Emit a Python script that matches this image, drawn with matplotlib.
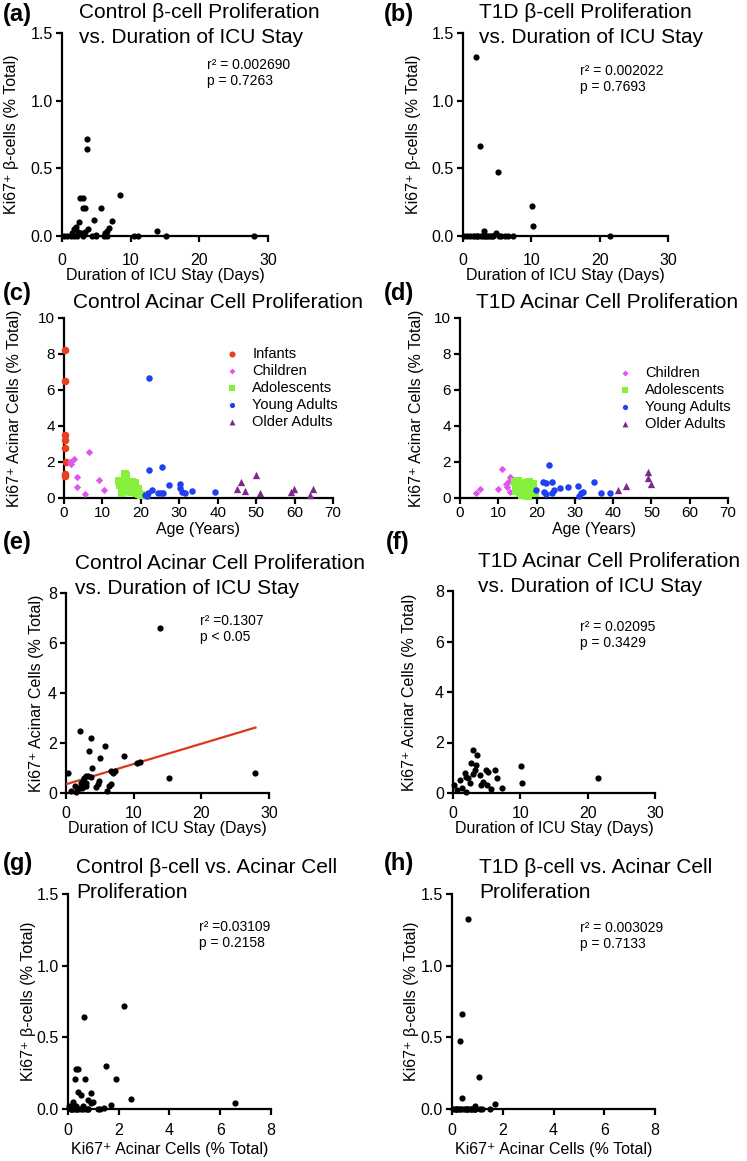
import matplotlib
matplotlib.use("Agg")
import matplotlib.pyplot as plt
from matplotlib.ticker import FormatStrFormatter

plt.rcParams['font.family'] = ['Liberation Sans', 'DejaVu Sans']

# ---- control donors: days in ICU, Ki67+ beta cells (%), Ki67+ acinar cells (%)
ctrl_icu_days = [3.7, 3.7, 2.6, 3.0, 8.5, 3.0, 3.3, 5.7, 4.7, 7.3, 2.5, 2.0, 1.8,
                 3.8, 6.9, 13.9, 2.7, 5.0, 6.3, 6.6, 0.3, 0.8, 1.3, 1.75, 2.2, 3.0,
                 4.4, 4.9, 6.1, 6.6, 10.5, 11.0, 15.2, 28.0, 1.5, 2.3, 3.4]
ctrl_beta = [0.72, 0.64, 0.28, 0.28, 0.30, 0.21, 0.21, 0.21, 0.12, 0.11, 0.10, 0.07,
             0.05, 0.05, 0.06, 0.04, 0.02, 0.01, 0.02, 0.04, 0, 0, 0, 0, 0, 0,
             0, 0, 0, 0, 0, 0, 0, 0, 0.02, 0.03, 0.03]
ctrl_acinar = [2.2, 0.64, 0.3, 0.4, 1.5, 0.28, 0.67, 1.9, 0.38, 0.9, 0.5, 2.5, 0.2,
               1.0, 0.8, 6.6, 0.6, 1.4, 0.3, 0.9, 0.8, 0.1, 0.3, 0.15, 0.4, 0.7,
               0.25, 0.5, 0.1, 0.35, 1.2, 1.25, 0.6, 0.8, 0.05, 0.2, 1.7]
ctrl_fit_intercept = 0.35
ctrl_fit_slope = 0.081

# ---- T1D donors
t1d_icu_days = [1.86, 2.5, 5.1, 10.1, 10.25, 3.0, 4.9, 0.2, 0.6, 1.0, 1.4, 1.8, 2.2,
                2.6, 3.2, 3.6, 4.0, 4.4, 5.2, 5.6, 6.2, 6.6, 7.3, 21.5, 2.9, 3.4, 2.0, 4.2]
t1d_beta = [1.325, 0.665, 0.473, 0.224, 0.074, 0.037, 0.02, 0, 0, 0, 0, 0, 0,
            0, 0, 0, 0, 0, 0, 0, 0, 0, 0, 0, 0, 0, 0, 0]
t1d_acinar = [0.63, 0.41, 0.33, 1.05, 0.4, 1.7, 0.9, 0.3, 0.1, 0.5, 0.2, 0.8, 0.6,
              1.2, 0.9, 1.5, 0.7, 0.45, 0.85, 0.15, 0.9, 0.6, 0.2, 0.6, 0.75, 1.1, 0.05, 0.3]

# ---- acinar proliferation by age group
groups = ['Infants', 'Children', 'Adolescents', 'Young Adults', 'Older Adults']
group_colors = ['#E8401C', '#E055F0', '#86F03C', '#2040F0', '#7B2A8C']
group_markers = ['o', 'D', 's', 'o', '^']
group_sizes = [30, 14, 30, 22, 28]

ctrl_age = {
    'Infants': [0.3, 0.2, 0.3, 0.2, 0.3, 0.4, 0.3, 0.2],
    'Children': [1.6, 2.6, 1.7, 3.3, 3.3, 5.5, 6.6, 9.2, 10.4],
    'Adolescents': [14.2, 14.5, 15.0, 15.4, 15.8, 16.2, 16.3, 16.8, 17.0, 17.5, 17.8,
                    18.2, 18.5, 18.8, 19.3, 19.6, 20.0, 16.0, 15.2, 17.2],
    'Young Adults': [22.0, 22.2, 25.4, 21.1, 21.9, 22.8, 24.4, 25.2, 27.2, 30.2, 30.2,
                     30.6, 31.5, 33.2, 39.3, 25.8, 21.5],
    'Older Adults': [46.0, 45.0, 47.1, 50.0, 51.0, 59.0, 59.9, 64.1, 64.9],
}
ctrl_age_acinar = {
    'Infants': [8.2, 6.5, 3.5, 3.2, 2.8, 2.0, 1.35, 1.2],
    'Children': [1.98, 2.17, 1.87, 1.18, 0.63, 0.22, 2.57, 1.0, 0.44],
    'Adolescents': [0.95, 0.7, 0.55, 0.8, 1.35, 1.2, 0.9, 0.55, 0.4, 0.35, 0.9,
                    0.6, 0.85, 0.3, 0.5, 0.2, 0.15, 1.0, 0.3, 0.75],
    'Young Adults': [6.65, 1.55, 1.74, 0.17, 0.3, 0.44, 0.3, 0.27, 0.72, 0.8, 0.55,
                     0.35, 0.27, 0.4, 0.32, 0.28, 0.1],
    'Older Adults': [0.9, 0.48, 0.39, 1.28, 0.26, 0.35, 0.48, 0.17, 0.48],
}
t1d_age = {
    'Children': [4.1, 5.1, 9.9, 11.0, 11.9, 12.5, 13.0, 12.2, 13.0],
    'Adolescents': [14.3, 14.7, 15.2, 15.6, 15.9, 16.3, 16.8, 17.2, 17.5, 17.9, 18.3,
                    18.7, 19.1, 19.5, 14.5, 15.4, 16.5, 17.7, 18.0, 19.0],
    'Young Adults': [23.2, 21.7, 22.4, 24.0, 19.9, 22.0, 22.4, 24.0, 26.0, 28.2, 30.9,
                     31.6, 32.0, 35.0, 36.9, 39.1, 31.2, 24.6],
    'Older Adults': [41.3, 43.4, 49.1, 49.1, 50.0],
}
t1d_age_acinar = {
    'Children': [0.26, 0.48, 0.48, 1.6, 0.78, 0.91, 1.18, 0.6, 0.35],
    'Adolescents': [0.9, 0.6, 0.95, 0.3, 0.7, 0.15, 0.85, 0.5, 0.2, 0.9, 0.35,
                    0.8, 0.6, 0.3, 0.4, 0.8, 0.55, 0.1, 0.65, 0.75],
    'Young Adults': [1.83, 0.87, 0.82, 0.87, 0.44, 0.33, 0.2, 0.28, 0.54, 0.6, 0.68,
                     0.3, 0.35, 0.9, 0.3, 0.3, 0.1, 0.44],
    'Older Adults': [0.44, 0.68, 1.46, 1.1, 0.78],
}

W, H = 747, 1161
fig = plt.figure(figsize=(W / 100, H / 100), dpi=100)

BETA_LABEL = 'Ki67\u207a \u03b2-cells (% Total)'
ACINAR_LABEL = 'Ki67\u207a Acinar Cells (% Total)'
ICU_LABEL = 'Duration of ICU Stay (Days)'


def add_ax(l, t, r, b):
    return fig.add_axes([l / W, 1 - b / H, (r - l) / W, (b - t) / H])


def style(ax, xlim, ylim, xticks, yticks, yfmt=None, xpad=6, lsize=11.5):
    ax.set_xlim(*xlim)
    ax.set_ylim(*ylim)
    ax.set_xticks(xticks)
    ax.set_yticks(yticks)
    if yfmt:
        ax.yaxis.set_major_formatter(FormatStrFormatter(yfmt))
    for s in ['top', 'right']:
        ax.spines[s].set_visible(False)
    for s in ['left', 'bottom']:
        ax.spines[s].set_linewidth(1.6)
    ax.tick_params(direction='out', length=4, width=1.6, labelsize=lsize)
    ax.tick_params(axis='x', pad=xpad)
    ax.tick_params(axis='y', pad=2.5)
    ax.patch.set_alpha(0)


def px_text(x, y, s, **kw):
    fig.text(x / W, 1 - y / H, s, **kw)


def label_coords(ax, box, xl_y, yl_x):
    # xl_y: top of x label (px), yl_x: right edge of rotated y label (px)
    l, t, r, b = box
    ax.yaxis.set_label_coords((yl_x - l) / (r - l), 0.5)
    ax.xaxis.set_label_coords(0.5, (b - xl_y) / (b - t))


def dots(ax, x, y, s=20, color='black', marker='o'):
    ax.scatter(x, y, s=s, c=color, marker=marker, linewidths=0, clip_on=False, zorder=5)


boxes = {
    'a': (62, 33, 268, 236), 'b': (463, 33, 668, 236),
    'c': (64, 318, 333, 498), 'd': (460, 318, 728, 498),
    'e': (66, 593, 269, 793), 'f': (453, 591, 655, 793),
    'g': (68, 894, 271, 1109), 'h': (452, 894, 655, 1109),
}
ylabel_x = {'a': 19, 'b': 421, 'c': 22, 'd': 424, 'e': 44, 'f': 417, 'g': 36, 'h': 419}
axs = {k: add_ax(*v) for k, v in boxes.items()}

# (a) / (b) beta vs ICU days
for k, xs, ys in [('a', ctrl_icu_days, ctrl_beta), ('b', t1d_icu_days, t1d_beta)]:
    ax = axs[k]
    style(ax, (0, 30), (0, 1.5), [0, 10, 20, 30], [0, 0.5, 1.0, 1.5], '%.1f', xpad=8)
    dots(ax, xs, ys)
    ax.set_ylabel(BETA_LABEL, fontsize=11.5)
    ax.set_xlabel(ICU_LABEL, fontsize=11.5)
    label_coords(ax, boxes[k], 268, ylabel_x[k])

# (c) / (d) acinar vs age
for k, ages, vals, legend_xy in [('c', ctrl_age, ctrl_age_acinar, (0.57, 0.88)),
                                 ('d', t1d_age, t1d_age_acinar, (0.56, 0.775))]:
    ax = axs[k]
    style(ax, (0, 70), (0, 10), range(0, 71, 10), range(0, 11, 2), xpad=2, lsize=11)
    for g, col, mk, sz in zip(groups, group_colors, group_markers, group_sizes):
        if g not in ages:
            continue
        ax.scatter(ages[g], vals[g], s=sz, c=col, marker=mk, linewidths=0,
                   clip_on=False, zorder=5, label=g)
    ax.legend(loc='upper left', bbox_to_anchor=legend_xy, frameon=False, fontsize=10.5,
              handlelength=1.0, handletextpad=0.9, labelspacing=0.2, borderpad=0,
              markerscale=0.8)
    ax.set_ylabel(ACINAR_LABEL, fontsize=11.5)
    ax.set_xlabel('Age (Years)', fontsize=11.5)
    label_coords(ax, boxes[k], 522, ylabel_x[k])

# (e) / (f) acinar vs ICU days
for k, xs, ys in [('e', ctrl_icu_days, ctrl_acinar), ('f', t1d_icu_days, t1d_acinar)]:
    ax = axs[k]
    style(ax, (0, 30), (0, 8), [0, 10, 20, 30], [0, 2, 4, 6, 8], xpad=5.5)
    dots(ax, xs, ys)
    ax.set_ylabel(ACINAR_LABEL, fontsize=11.5)
    ax.set_xlabel(ICU_LABEL, fontsize=11.5)
    label_coords(ax, boxes[k], 821, ylabel_x[k])

fit_x = [0, max(ctrl_icu_days)]
fit_y = [ctrl_fit_intercept + ctrl_fit_slope * v for v in fit_x]
axs['e'].plot(fit_x, fit_y, color='#D9381E', lw=1.6, zorder=4)

# (g) / (h) beta vs acinar
for k, xs, ys in [('g', ctrl_acinar, ctrl_beta), ('h', t1d_acinar, t1d_beta)]:
    ax = axs[k]
    style(ax, (0, 8), (0, 1.5), [0, 2, 4, 6, 8], [0, 0.5, 1.0, 1.5], '%.1f', xpad=6)
    dots(ax, xs, ys)
    ax.set_ylabel(BETA_LABEL, fontsize=11.5)
    ax.set_xlabel(ACINAR_LABEL, fontsize=11.5)
    label_coords(ax, boxes[k], 1142, ylabel_x[k])

# titles
titles = [
    (79, 3, 'Control \u03b2-cell Proliferation\nvs. Duration of ICU Stay'),
    (479, 3, 'T1D \u03b2-cell Proliferation\nvs. Duration of ICU Stay'),
    (73, 293, 'Control Acinar Cell Proliferation'),
    (476, 293, 'T1D Acinar Cell Proliferation'),
    (75, 554, 'Control Acinar Cell Proliferation\nvs. Duration of ICU Stay'),
    (478, 552, 'T1D Acinar Cell Proliferation\nvs. Duration of ICU Stay'),
    (76, 858, 'Control \u03b2-cell vs. Acinar Cell\nProliferation'),
    (479, 858, 'T1D \u03b2-cell vs. Acinar Cell\nProliferation'),
]
for x, y, s in titles:
    px_text(x, y, s, fontsize=15, va='top', ha='left', linespacing=1.42)

panel_labels = [(3, 3, '(a)'), (384, 3, '(b)'), (3, 282, '(c)'), (384, 282, '(d)'),
                (3, 531, '(e)'), (386, 531, '(f)'), (3, 852, '(g)'), (384, 852, '(h)')]
for x, y, s in panel_labels:
    px_text(x, y, s, fontsize=17, fontweight='bold', va='top', ha='left')

stats = [
    (207, 58, 'r\u00b2 = 0.002690\np = 0.7263'),
    (580, 64, 'r\u00b2 = 0.002022\np = 0.7693'),
    (200, 614, 'r\u00b2 =0.1307\np < 0.05'),
    (580, 620, 'r\u00b2 = 0.02095\np = 0.3429'),
    (199, 920, 'r\u00b2 =0.03109\np = 0.2158'),
    (580, 921, 'r\u00b2 = 0.003029\np = 0.7133'),
]
for x, y, s in stats:
    px_text(x, y, s, fontsize=10, va='top', ha='left', linespacing=1.15)

fig.savefig('out.png', dpi=100)
